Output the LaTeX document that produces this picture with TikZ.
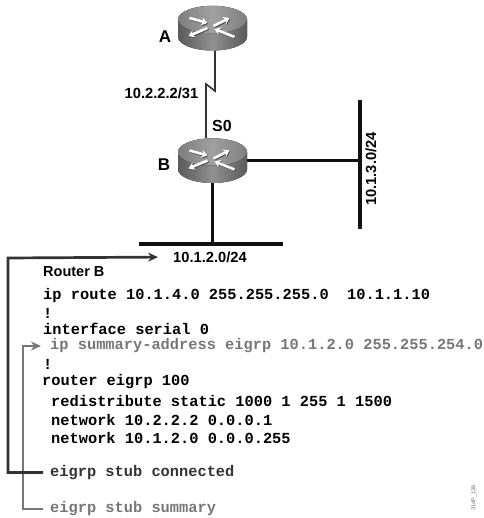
\documentclass[tikz,border=0pt]{standalone}
\usepackage{fontspec}
\setmainfont{Liberation Sans}
\setmonofont{Liberation Mono}
\usetikzlibrary{arrows.meta,positioning}
\definecolor{wire}{HTML}{111111}
\definecolor{darklink}{HTML}{333333}
\definecolor{greylink}{HTML}{777777}
\definecolor{bodyedge}{HTML}{5A5A5A}
\definecolor{bodymid}{HTML}{909090}
\definecolor{topedge}{HTML}{7E7E7E}
\definecolor{toplight}{HTML}{A0A0A0}
\newcommand{\routerart}{%
  \begin{scope}[shift={(path picture bounding box.center)},x=1pt,y=-1pt]
    \fill[left color=bodyedge,right color=bodyedge,middle color=bodymid]
      (-34.5,-8.5) -- (-34.5,8.8) arc[start angle=180,end angle=360,x radius=34.5,y radius=-13.7]
      -- (34.5,-8.5) -- cycle;
    \fill[left color=topedge,right color=topedge,middle color=toplight]
      (0,-8.5) ellipse[x radius=34.5,y radius=13.7];
    \begin{scope}[shift={(0,-8.5)}]
      \foreach \tailx/\taily/\headx/\heady in {-23/-10/-5/-5,1/-2/17/-10,-5/0/-24/8,22/9/2/1} {
        \draw[-{Stealth[length=6pt,width=8pt]},line width=2.6pt,black!70]
          (\tailx+0.8,\taily+0.9) -- (\headx+0.8,\heady+0.9);
        \draw[-{Stealth[length=6pt,width=8pt]},line width=2.6pt,white]
          (\tailx,\taily) -- (\headx,\heady);
      }
    \end{scope}
  \end{scope}}
\tikzset{
  router/.style={minimum width=69pt,minimum height=45pt,inner sep=0pt,
    path picture={\routerart}},
  lan/.style={fill=wire,inner sep=0pt},
  netlabel/.style={font=\fontsize{14.7}{16}\selectfont\bfseries,inner sep=1pt},
  rtlabel/.style={font=\fontsize{17}{19}\selectfont\bfseries,inner sep=1pt},
  cfgline/.style={font=\ttfamily\bfseries\fontsize{15.35}{17}\selectfont,anchor=west,inner sep=0pt},
  serial/.style={line width=1.6pt,draw=darklink},
  lanlink/.style={line width=3.4pt,draw=wire},
  stubarrow/.style={-{Stealth[length=10pt,width=9pt]},line width=2.7pt,shorten >=9pt,shorten <=7pt}
}
\begin{document}
\begin{tikzpicture}[x=1pt,y=-1pt]
  \useasboundingbox (0,0) rectangle (483,518);
  \node[router] (rta) at (212.5,28) {};
  \node[router] (rtb) at (212.5,160.5) {};
  \node[rtlabel] (rtaname) at (165,37) {A};
  \node[rtlabel] (rtbname) at (164,165) {B};
  \node[netlabel] (serialip) at (161.5,93) {10.2.2.2/31};
  \node[netlabel,font=\fontsize{16}{18}\selectfont\bfseries] (s0name) at (222,126) {S0};

  \coordinate (kinkhi) at (215,91);
  \coordinate (kinklo) at (206,84);
  \draw[serial] (rta.south -| kinkhi) -- (kinkhi) -- (kinklo) -- (kinklo |- rtb.north);

  \node[lan,minimum width=144pt,minimum height=3.4pt] (lanb) at (211,244) {};
  \node[lan,minimum width=3.4pt,minimum height=129pt] (lanc) at (360,164.5) {};
  \draw[lanlink] (rtb.east) -- (rtb.east -| lanc);
  \draw[lanlink] (rtb.south) -- (rtb.south |- lanb);
  \node[netlabel] (netb) at (210,257) {10.1.2.0/24};
  \node[netlabel,rotate=90] (netc) at (371,169) {10.1.3.0/24};

  \node[netlabel,font=\fontsize{14.5}{16}\selectfont\bfseries,anchor=west,inner sep=0pt] (cfgtitle) at (43,272) {Router B};
  \node[cfgline] (iproute) at (43,296) {ip route 10.1.4.0 255.255.255.0\ \ 10.1.1.10};
  \node[cfgline] (bang1) at (43,313) {!};
  \node[cfgline] (ifserial) at (43,329) {interface serial 0};
  \node[cfgline,text=greylink] (sumaddr) at (50,346) {ip summary-address eigrp 10.1.2.0 255.255.254.0};
  \node[cfgline] (bang2) at (43,364) {!};
  \node[cfgline] (rtreigrp) at (42,382) {router eigrp 100};
  \node[cfgline] (redist) at (51,401) {redistribute static 1000 1 255 1 1500};
  \node[cfgline] (net1) at (51,420) {network 10.2.2.2 0.0.0.1};
  \node[cfgline] (net2) at (51,438) {network 10.1.2.0 0.0.0.255};
  \node[cfgline,text=darklink] (stubconn) at (50,472.5) {eigrp stub connected};
  \node[cfgline,text=greylink] (stubsum) at (50,509) {eigrp stub summary};

  \coordinate (railgrey) at (23,346);
  \coordinate (raildark) at (8,258);
  \draw[stubarrow,draw=greylink] (stubsum.west) -- (stubsum.west -| railgrey) -- (railgrey) -- (sumaddr.west);
  \draw[stubarrow,draw=darklink,shorten >=14pt] (stubconn.west) -- (stubconn.west -| raildark) -- (raildark) -- (netb.west);

  \node[font=\fontsize{5.5}{6}\selectfont,text=black!60,rotate=90,inner sep=0pt] (figtag) at (474,498) {314P\_138};
\end{tikzpicture}
\end{document}
